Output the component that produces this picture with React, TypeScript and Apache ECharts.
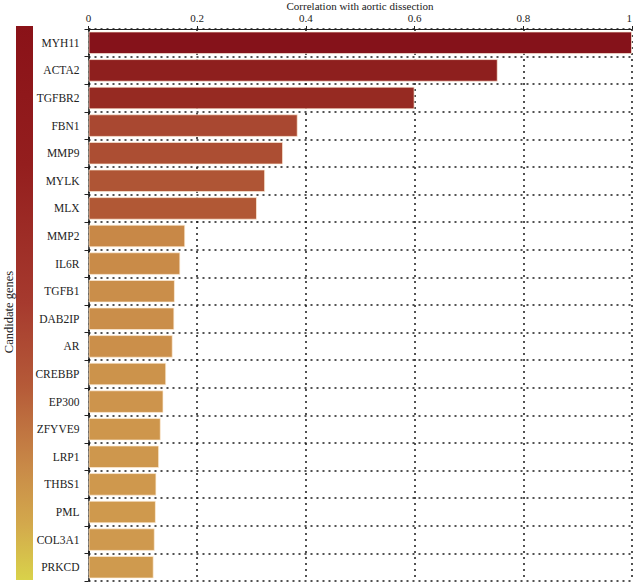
import React, { useEffect, useRef } from "react";
import * as echarts from "echarts";

const genes = [
  "MYH11", "ACTA2", "TGFBR2", "FBN1", "MMP9", "MYLK", "MLX", "MMP2", "IL6R", "TGFB1",
  "DAB2IP", "AR", "CREBBP", "EP300", "ZFYVE9", "LRP1", "THBS1", "PML", "COL3A1", "PRKCD",
];
const correlation = [
  1.0, 0.753, 0.6, 0.385, 0.358, 0.325, 0.31, 0.178, 0.169, 0.159,
  0.158, 0.155, 0.143, 0.138, 0.133, 0.13, 0.125, 0.124, 0.122, 0.12,
];
// bar colour ramp, evenly spaced from 0.1 to 1.0
const barRamp = [
  "#D2A050", "#C58145", "#B25A36", "#A74530", "#9E3629",
  "#962A22", "#91221F", "#8C1C1D", "#88171B", "#85121A",
];
// colour bar ramp, top to bottom
const legendStops = [
  [0, "#8A1218"], [0.25, "#941E1E"], [0.5, "#A63A2E"], [0.65, "#B55A38"],
  [0.8, "#C98B48"], [0.9, "#D3A94C"], [1, "#D9D24A"],
];

const FONT = "Liberation Serif, DejaVu Serif, serif";

export default function App() {
  const ref = useRef<HTMLDivElement>(null);
  useEffect(() => {
    if (!ref.current) return;
    const chart = echarts.init(ref.current, undefined, { renderer: "svg" });
    const dotted = { type: [2, 4] as any, color: "#1a1a1a", width: 1.5 };
    chart.setOption({
      animation: false,
      textStyle: { fontFamily: FONT },
      grid: { left: 88.5, right: 1, top: 29, bottom: 2, containLabel: false, outerBoundsMode: "none" },
      visualMap: {
        type: "continuous",
        show: false,
        min: 0.1,
        max: 1,
        dimension: 0,
        seriesIndex: 0,
        inRange: { color: barRamp },
      },
      graphic: [
        {
          type: "rect",
          left: 16,
          top: 26,
          shape: { width: 17, height: 554 },
          style: {
            fill: new echarts.graphic.LinearGradient(
              0, 0, 0, 1,
              legendStops.map(([o, c]) => ({ offset: o as number, color: c as string }))
            ),
          },
        },
        {
          type: "text",
          x: 360,
          y: 0,
          style: {
            text: "Correlation with aortic dissection",
            font: `11px ${FONT}`,
            fill: "#222",
            align: "center",
            verticalAlign: "top",
          },
        },
        {
          type: "text",
          x: 2,
          y: 312,
          rotation: Math.PI / 2,
          style: {
            text: "Candidate genes",
            font: `12.5px ${FONT}`,
            fill: "#222",
            align: "center",
            verticalAlign: "top",
          },
        },
      ],
      xAxis: {
        type: "value",
        position: "top",
        min: 0,
        max: 1,
        interval: 0.2,
        axisLine: { show: true, lineStyle: { color: "#222", width: 1 } },
        axisTick: { show: true, length: 3, lineStyle: { color: "#222" } },
        axisLabel: {
          fontFamily: FONT, fontSize: 11, color: "#222", margin: 6,
          showMaxLabel: true, showMinLabel: true, alignMaxLabel: "right", hideOverlap: false,
        },
        splitLine: { show: true, lineStyle: dotted },
      },
      yAxis: {
        type: "category",
        inverse: true,
        data: genes,
        axisLine: { show: true, lineStyle: { color: "#111", width: 1.5 } },
        axisTick: { show: true, length: 4, lineStyle: { color: "#222" } },
        axisLabel: { fontFamily: FONT, fontSize: 11.5, color: "#222", margin: 9 },
        splitLine: { show: true, lineStyle: dotted },
      },
      series: [
        {
          type: "bar",
          data: correlation,
          barCategoryGap: "18%",
          itemStyle: { borderColor: "rgba(255,240,220,0.7)", borderWidth: 1 },
        },
      ],
    });
    return () => chart.dispose();
  }, []);
  return (
    <div
      ref={ref}
      style={{ position: "absolute", left: 0, top: 0, width: 633, height: 583 }}
    />
  );
}
